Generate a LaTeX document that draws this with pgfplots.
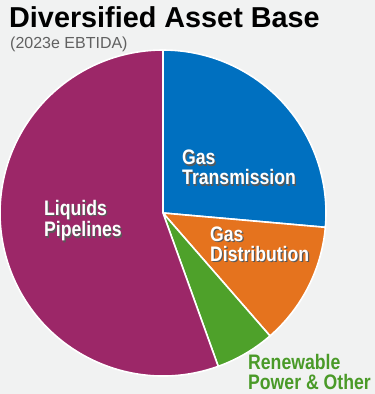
\documentclass[border=0pt]{standalone}
\usepackage{pgfplots}
\usepackage{pgfplotstable}
\pgfplotsset{compat=1.18}
\usepackage{fontspec}
\setmainfont{Liberation Sans}
\newfontfamily\labfont[FakeStretch=0.84]{Liberation Sans}
\definecolor{bg}{HTML}{F1F2F2}
\definecolor{gtblue}{HTML}{0070C0}
\definecolor{gdorange}{HTML}{E5731E}
\definecolor{rpgreen}{HTML}{4EA12A}
\definecolor{lpmaroon}{HTML}{9C2768}
\definecolor{greentext}{HTML}{4A9A28}
\newcommand\sh[1]{\rlap{\hspace{1.2pt}\raisebox{-1.2pt}{\textcolor{black!65}{#1}}}#1}
\pgfplotstableread{
label value
GT 26.4
GD 12.2
RP 5.9
LP 55.5
}\piedata
\begin{document}
\begin{tikzpicture}
\pgfplotstablegetelem{0}{value}\of\piedata \let\vGT\pgfplotsretval
\pgfplotstablegetelem{1}{value}\of\piedata \let\vGD\pgfplotsretval
\pgfplotstablegetelem{2}{value}\of\piedata \let\vRP\pgfplotsretval
\pgfplotstablegetelem{3}{value}\of\piedata \let\vLP\pgfplotsretval
\pgfmathsetmacro\aO{90}
\pgfmathsetmacro\aA{\aO-3.6*\vGT}
\pgfmathsetmacro\aB{\aA-3.6*\vGD}
\pgfmathsetmacro\aC{\aB-3.6*\vRP}
\pgfmathsetmacro\aD{\aC-3.6*\vLP}
\begin{axis}[width=375pt,height=394pt,scale only axis,
  xmin=0,xmax=375,ymin=0,ymax=394,hide axis,clip=false,xtick=\empty,ytick=\empty]
\coordinate (sw) at (axis cs:0,0);
\coordinate (ne) at (axis cs:375,394);
\fill[bg] (axis cs:0,0) rectangle (axis cs:375,394);
\def\R{163pt}
\fill[gtblue,draw=white,line width=1.6pt,line join=round] (axis cs:163,181) -- ++(\aO:\R) arc[start angle=\aO,end angle=\aA,radius=\R] -- cycle;
\fill[gdorange,draw=white,line width=1.6pt,line join=round] (axis cs:163,181) -- ++(\aA:\R) arc[start angle=\aA,end angle=\aB,radius=\R] -- cycle;
\fill[rpgreen,draw=white,line width=1.6pt,line join=round] (axis cs:163,181) -- ++(\aB:\R) arc[start angle=\aB,end angle=\aC,radius=\R] -- cycle;
\fill[lpmaroon,draw=white,line width=1.6pt,line join=round] (axis cs:163,181) -- ++(\aC:\R) arc[start angle=\aC,end angle=\aD,radius=\R] -- cycle;
% title
\node[anchor=base west,inner sep=0pt,font=\fontsize{28.8}{30}\selectfont\bfseries] at (axis cs:9,366.5) {Diversified Asset Base};
\node[anchor=base west,inner sep=0pt,font=\fontsize{16}{17}\selectfont,text=black!62] at (axis cs:10,345) {(2023e EBTIDA)};
% slice labels (base anchor = last line baseline)
\tikzset{lbl/.style={anchor=base west,inner sep=0pt,align=left,font=\labfont\fontsize{21}{20}\selectfont\bfseries}}
\node[lbl,text=white] at (axis cs:182,209) {\sh{Gas}\\\sh{Transmission}};
\node[lbl,text=white] at (axis cs:44,157) {\sh{Liquids}\\\sh{Pipelines}};
\node[lbl,text=white] at (axis cs:210,132.5) {\sh{Gas}\\\sh{Distribution}};
\node[lbl,text=greentext] at (axis cs:248,4) {Renewable\\Power \& Other};
\end{axis}
\pgfresetboundingbox
\path[use as bounding box] (sw) rectangle (ne);
\end{tikzpicture}
\end{document}
